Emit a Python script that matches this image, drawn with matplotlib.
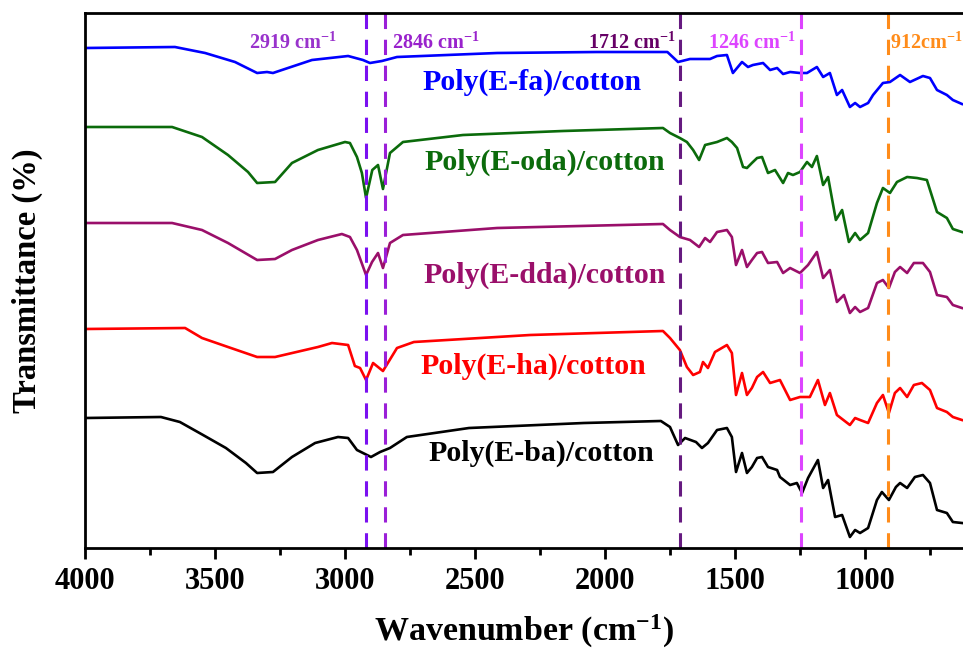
import numpy as np
import matplotlib
matplotlib.use("Agg")
import matplotlib.pyplot as plt
from matplotlib.ticker import MultipleLocator

plt.rcParams['font.family'] = ['Liberation Serif', 'DejaVu Serif']
plt.rcParams['font.weight'] = 'bold'
plt.rcParams['mathtext.fontset'] = 'custom'
plt.rcParams['mathtext.rm'] = 'Liberation Serif:bold'
plt.rcParams['mathtext.it'] = 'Liberation Serif:bold'
plt.rcParams['mathtext.bf'] = 'Liberation Serif:bold'

# spectra, wavenumber (cm-1) and stacked transmittance (a.u.)
fa_w = [4000, 3654, 3538, 3423, 3338, 3300, 3277, 3231, 3127, 2988, 2931, 2904, 2858, 2800, 2415, 2031,
        1760, 1719, 1673, 1596, 1569, 1531, 1508, 1473, 1450, 1431, 1392, 1365, 1338, 1315, 1288, 1250,
        1223, 1185, 1161, 1135, 1108, 1088, 1058, 1038, 1019, 988, 969, 931, 904, 865, 827, 777, 750,
        723, 685, 662, 627]
fa_t = [500, 501, 495, 486, 475, 476, 475, 479, 488, 492, 488, 485, 487, 491, 495, 496,
        496, 486, 489, 489, 492, 493, 475, 486, 481, 483, 485, 478, 480, 474, 476, 475,
        475, 481, 471, 475, 453, 458, 441, 445, 441, 445, 453, 465, 466, 473, 466, 472, 470,
        458, 453, 448, 444]

oda_w = [4000, 3665, 3550, 3450, 3373, 3338, 3269, 3204, 3104, 3000, 2981, 2954, 2935, 2919, 2895, 2873,
         2854, 2827, 2777, 2546, 2162, 1777, 1750, 1712, 1685, 1661, 1638, 1615, 1569, 1531, 1512, 1492,
         1469, 1454, 1435, 1415, 1396, 1373, 1346, 1315, 1296, 1277, 1250, 1223, 1204, 1185, 1161, 1142,
         1112, 1088, 1062, 1038, 1019, 988, 954, 931, 904, 877, 838, 800, 762, 723, 685, 662, 627]
oda_t = [421, 421, 411, 393, 376, 365, 366, 385, 398, 406, 405, 391, 375, 350, 378, 383,
         359, 395, 406, 413, 417, 420, 415, 410, 406, 398, 388, 403, 406, 410, 406, 400,
         381, 380, 385, 390, 391, 375, 378, 365, 375, 373, 376, 386, 381, 392, 363, 371,
         328, 338, 306, 315, 308, 315, 345, 360, 355, 366, 371, 370, 368, 336, 330, 319, 316]

dda_w = [4000, 3665, 3550, 3450, 3338, 3269, 3204, 3104, 3012, 2981, 2954, 2919, 2896, 2873, 2854, 2827,
         2777, 2415, 1777, 1750, 1712, 1673, 1638, 1615, 1596, 1569, 1531, 1512, 1496, 1473, 1454, 1435,
         1415, 1396, 1373, 1338, 1315, 1288, 1250, 1219, 1185, 1161, 1135, 1108, 1081, 1058, 1038, 1019,
         988, 954, 931, 908, 885, 865, 838, 812, 777, 750, 723, 685, 662, 627]
dda_t = [325, 325, 318, 305, 288, 289, 298, 308, 314, 311, 298, 273, 286, 295, 280, 305,
         313, 320, 324, 318, 311, 308, 301, 310, 306, 316, 318, 311, 283, 298, 281, 288,
         295, 296, 285, 286, 275, 280, 275, 283, 296, 270, 278, 246, 253, 235, 241, 236,
         240, 265, 268, 260, 276, 281, 275, 285, 285, 276, 253, 251, 243, 240]

ha_w = [4000, 3615, 3550, 3450, 3338, 3269, 3104, 3050, 2988, 2962, 2942, 2919, 2892, 2854, 2800, 2735,
        2288, 1777, 1750, 1712, 1685, 1661, 1635, 1623, 1604, 1577, 1531, 1512, 1496, 1473, 1454, 1435,
        1415, 1392, 1365, 1327, 1288, 1250, 1212, 1181, 1154, 1135, 1108, 1058, 1038, 1019, 988, 954,
        931, 908, 885, 865, 838, 812, 781, 750, 723, 685, 662, 627]
ha_t = [219, 220, 210, 201, 191, 191, 201, 205, 203, 182, 180, 168, 185, 177, 200, 206,
        213, 217, 210, 198, 181, 173, 176, 186, 180, 196, 203, 195, 153, 175, 153, 160,
        171, 176, 165, 168, 148, 151, 151, 168, 143, 155, 133, 123, 130, 128, 125, 145,
        153, 135, 155, 160, 151, 163, 165, 158, 140, 136, 131, 128]

ba_w = [4000, 3708, 3635, 3546, 3458, 3381, 3338, 3277, 3204, 3115, 3027, 2988, 2954, 2900, 2865, 2827,
        2762, 2523, 2081, 1785, 1750, 1719, 1692, 1650, 1627, 1604, 1569, 1531, 1512, 1496, 1473, 1454,
        1435, 1415, 1396, 1373, 1338, 1327, 1288, 1262, 1242, 1219, 1181, 1161, 1142, 1115, 1088, 1058,
        1038, 1019, 988, 954, 935, 908, 881, 865, 838, 808, 777, 750, 723, 685, 662, 627]
ba_t = [130, 131, 126, 113, 100, 85, 75, 76, 91, 105, 111, 110, 98, 91, 96, 100,
        111, 120, 125, 127, 121, 103, 110, 106, 100, 105, 118, 120, 111, 76, 95, 75,
        81, 90, 91, 81, 78, 71, 63, 65, 55, 70, 88, 60, 68, 31, 33, 11,
        18, 15, 20, 48, 56, 48, 61, 65, 60, 71, 73, 65, 38, 35, 26, 25]

names = ["Poly(E-fa)/cotton", "Poly(E-oda)/cotton", "Poly(E-dda)/cotton",
         "Poly(E-ha)/cotton", "Poly(E-ba)/cotton"]
colors = ['#0000ff', '#0b6b0b', '#9a0f6a', '#ff0000', '#000000']
label_x = [2281, 2231, 2231, 2277, 2246]
label_y = [466, 386, 273, 182, 95]

peaks = [2919, 2846, 1712, 1246, 912]
peak_labels = ["2919 cm$^{-1}$", "2846 cm$^{-1}$", "1712 cm$^{-1}$", "1246 cm$^{-1}$", "912cm$^{-1}$"]
peak_line_colors = ['#7a10f0', '#9a1fd8', '#661a80', '#dd44ff', '#ff8c1a']
peak_text_colors = ['#9933cc', '#9922cc', '#660066', '#dd44ff', '#ff8c1a']
peak_text_x = [3200, 2650, 1896, 1435, 904]
peak_text_ha = ['center', 'center', 'center', 'center', 'left']

fig = plt.figure(figsize=(9.63, 6.53), dpi=100)
ax = fig.add_axes([85 / 963, 105 / 653, 878 / 963, 535 / 653])

series = [(fa_w, fa_t), (oda_w, oda_t), (dda_w, dda_t), (ha_w, ha_t), (ba_w, ba_t)]
for (w, t), c in zip(series, colors):
    ax.plot(w, t, color=c, lw=1.9)

for p, c in zip(peaks, peak_line_colors):
    ax.axvline(p, color=c, lw=2.2, ls=(0, (5, 3.5)))

for txt, x, c, ha in zip(peak_labels, peak_text_x, peak_text_colors, peak_text_ha):
    ax.text(x, 505, txt, color=c, fontsize=14.5, fontweight='bold', ha=ha, va='center')

for n, x, y, c in zip(names, label_x, label_y, colors):
    ax.text(x, y, n, color=c, fontsize=21.5, fontweight='bold', ha='center', va='center')

ax.set_xlim(4000, 623)
ax.set_ylim(0, 535)
ax.xaxis.set_major_locator(MultipleLocator(500))
ax.xaxis.set_minor_locator(MultipleLocator(250))
ax.set_yticks([])
ax.spines['right'].set_visible(False)
for s in ['left', 'top', 'bottom']:
    ax.spines[s].set_linewidth(2)
ax.tick_params(axis='x', which='major', length=8, width=2, labelsize=22, pad=6)
ax.tick_params(axis='x', which='minor', length=5, width=2)
for lab in ax.get_xticklabels():
    lab.set_fontweight('bold')

ax.set_xlabel("Wavenumber (cm$^{-1}$)", fontsize=24.5, fontweight='bold', labelpad=12)
ax.set_ylabel("Transmittance (%)", fontsize=23.5, fontweight='bold', labelpad=30)

fig.savefig("out.png", dpi=100)
